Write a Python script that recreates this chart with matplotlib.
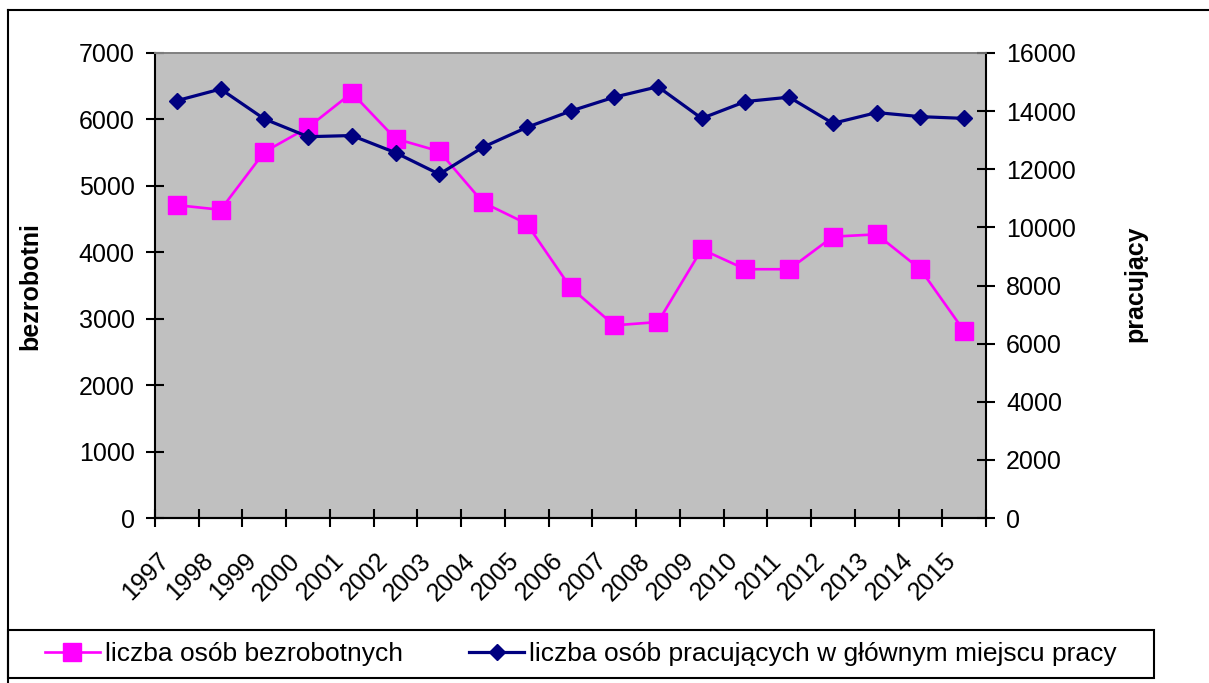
import matplotlib

matplotlib.use("Agg")
import matplotlib.pyplot as plt
from matplotlib.lines import Line2D
from matplotlib.patches import Rectangle
from matplotlib.transforms import ScaledTranslation

plt.rcParams["font.family"] = ["Liberation Sans", "DejaVu Sans"]

years = [str(y) for y in range(1997, 2016)]
bezrobotni = [4710, 4640, 5510, 5880, 6400, 5710, 5520, 4750, 4430,
              3470, 2900, 2950, 4045, 3745, 3745, 4235, 4270, 3745, 2815]
pracujacy = [14360, 14760, 13730, 13120, 13160, 12570, 11830, 12760, 13440,
             14000, 14480, 14840, 13750, 14330, 14480, 13580, 13950, 13810, 13750]
left_ticks = [0, 1000, 2000, 3000, 4000, 5000, 6000, 7000]
right_ticks = [0, 2000, 4000, 6000, 8000, 10000, 12000, 14000, 16000]

W, H = 1209, 683
FS = 18
PINK = "#FF00FF"
NAVY = "#000080"

fig = plt.figure(figsize=(W / 100, H / 100), dpi=100)
fig.patch.set_facecolor("white")

# plot area in pixel coords: x 155..986, y 53..518
ax = fig.add_axes([155 / W, 1 - 518 / H, (986 - 155) / W, (518 - 53) / H])
ax.set_facecolor("#C0C0C0")
ax2 = ax.twinx()

centers = [i + 0.5 for i in range(len(years))]
ax.plot(centers, bezrobotni, color=PINK, lw=1.9, marker="s", ms=13,
        mec=PINK, mfc=PINK, clip_on=False, zorder=3)
ax2.plot(centers, pracujacy, color=NAVY, lw=2.3, marker="D", ms=8,
         mec=NAVY, mfc=NAVY, clip_on=False, zorder=3)

ax.set_xlim(0, len(years))
ax.set_ylim(0, 7000)
ax2.set_ylim(0, 16000)
ax.set_yticks(left_ticks)
ax.set_yticklabels([str(v) for v in left_ticks])
ax2.set_yticks(right_ticks)
ax2.set_yticklabels([str(v) for v in right_ticks])

# category boundaries carry the tick marks, centres carry the labels
ax.set_xticks(range(len(years) + 1))
ax.set_xticklabels([""] * (len(years) + 1))
ax.set_xticks(centers, minor=True)
ax.set_xticklabels(years, minor=True, rotation=45, ha="right", va="top",
                   rotation_mode="anchor", fontsize=FS)
ax.tick_params(axis="x", which="minor", length=0, pad=22)
ax.tick_params(axis="x", which="major", direction="inout", length=13, width=1.5)
ax.tick_params(axis="y", direction="inout", length=13, width=1.5, pad=8, labelsize=FS)
ax2.tick_params(axis="y", direction="inout", length=13, width=1.5, pad=8, labelsize=FS)
shift = ScaledTranslation(-20 / 100, 0, fig.dpi_scale_trans)
for lab in ax.get_xticklabels(minor=True):
    lab.set_transform(lab.get_transform() + shift)

for a in (ax, ax2):
    a.spines["top"].set_color("#808080")
    a.spines["top"].set_linewidth(1.2)
    a.spines["left"].set_linewidth(1.5)
    a.spines["right"].set_linewidth(1.5)
    a.spines["bottom"].set_linewidth(1.5)
ax.spines["right"].set_visible(False)
ax2.spines["left"].set_visible(False)

fig.text(30 / W, 1 - 286 / H, "bezrobotni", rotation=90, ha="center", va="center",
         fontsize=FS, fontweight="bold")
fig.text(1135 / W, 1 - 284 / H, "pracujący", rotation=90, ha="center", va="center",
         fontsize=FS, fontweight="bold")

# outer chart frame and legend box
fig.add_artist(Line2D([8 / W, 8 / W], [0, 1 - 10 / H], color="black", lw=1.5))
fig.add_artist(Line2D([8 / W, 1], [1 - 10 / H, 1 - 10 / H], color="black", lw=1.5))
fig.add_artist(Rectangle((8 / W, 1 - 678 / H), (1154 - 8) / W, (678 - 630) / H,
                         transform=fig.transFigure, fill=False, ec="black", lw=1.5))

handles = [
    Line2D([], [], color=PINK, lw=1.9, marker="s", ms=13, mec=PINK, mfc=PINK),
    Line2D([], [], color=NAVY, lw=2.3, marker="D", ms=8, mec=NAVY, mfc=NAVY),
]
labels = ["liczba osób bezrobotnych", "liczba osób pracujących w głównym miejscu pracy"]
fig.legend(handles, labels, loc="center left", bbox_to_anchor=(45 / W, 1 - 654 / H),
           ncol=2, frameon=False, fontsize=19, handlelength=2.08, handletextpad=0.2,
           columnspacing=2.5, borderpad=0, borderaxespad=0)

fig.savefig("out.png", dpi=100, facecolor="white")
